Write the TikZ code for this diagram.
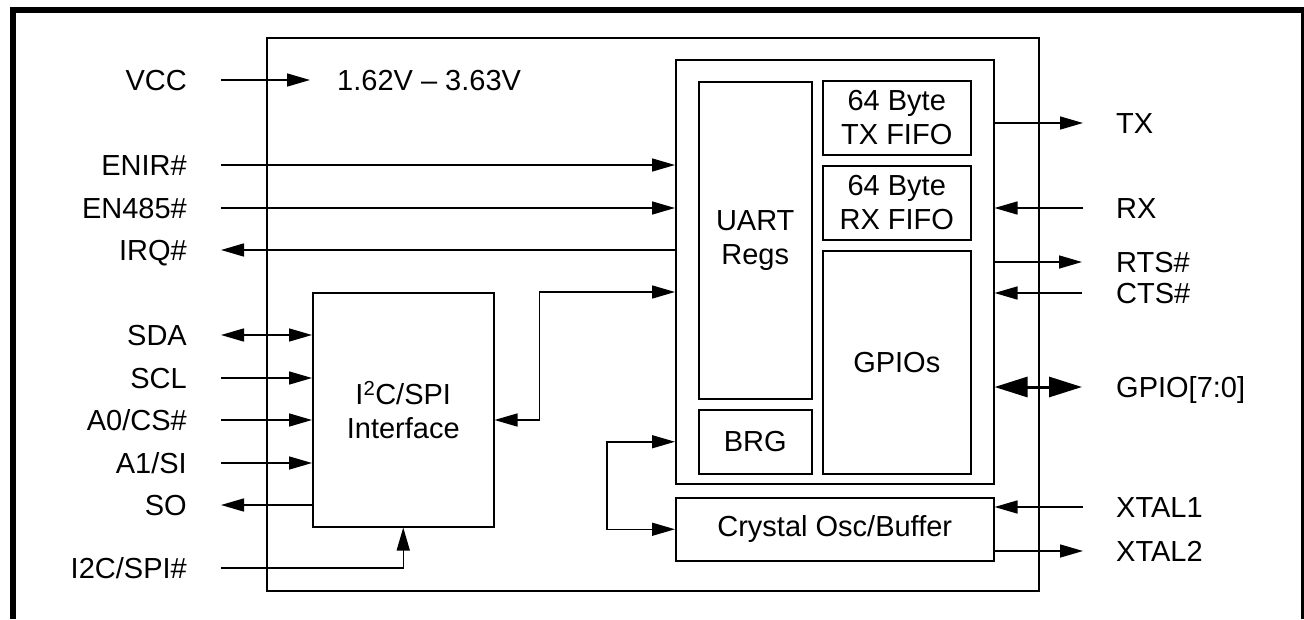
\documentclass[tikz,border=0pt]{standalone}
\usepackage{fontspec}
\setmainfont{Liberation Sans}
\usetikzlibrary{arrows.meta, positioning, calc}

\begin{document}
\begin{tikzpicture}[
    x=1pt, y=-1pt,
    font=\fontsize{29}{34}\selectfont,
    block/.style={draw=black, line width=1.5pt, anchor=north west, align=center, inner sep=0pt},
    pin/.style={inner sep=0pt, text height=21pt, text depth=0pt},
    arrow/.style={-{Triangle[length=23pt, width=13pt]}, line width=1.5pt},
    biarrow/.style={{Triangle[length=23pt, width=13pt]}-{Triangle[length=23pt, width=13pt]}, line width=1.5pt},
    busarrow/.style={{Triangle[length=33pt, width=20pt]}-{Triangle[length=33pt, width=20pt]}, line width=3pt}
  ]
    \useasboundingbox (0,0) rectangle (1304,619);

    % Frame
    \draw[line width=6pt] (13,619) -- (13,10) -- (1304,10);
    \draw[line width=3pt] (1302,10) -- (1302,619);

    % Blocks
    \node[block, minimum width=772pt, minimum height=553pt] (chip) at (266,37) {};
    \node[block, minimum width=318pt, minimum height=424pt] (uart) at (675,59) {};
    \node[block, minimum width=113pt, minimum height=317pt] (regs) at (698,81) {UART\\Regs};
    \node[block, minimum width=148pt, minimum height=74pt] (txf) at (822,80) {64 Byte\\TX FIFO};
    \node[block, minimum width=148pt, minimum height=74pt] (rxf) at (822,165) {64 Byte\\RX FIFO};
    \node[block, minimum width=148pt, minimum height=223pt] (gpio) at (822,250) {GPIOs};
    \node[block, minimum width=113pt, minimum height=64pt] (brg) at (698,409) {BRG};
    \node[block, minimum width=318pt, minimum height=63pt] (xtal) at (675,497) {Crystal Osc/Buffer};
    \node[block, minimum width=181pt, minimum height=234pt] (i2c) at (312,292) {I\textsuperscript{2}C/SPI\\Interface};

    % Left pins
    \node[pin, anchor=east] (vcc) at (187,80) {VCC};
    \node[pin, anchor=east] (enir) at (187,165) {ENIR\#};
    \node[pin, anchor=east] (en485) at (187,208) {EN485\#};
    \node[pin, anchor=east] (irq) at (187,250) {IRQ\#};
    \node[pin, anchor=east] (sda) at (187,335) {SDA};
    \node[pin, anchor=east] (scl) at (187,378) {SCL};
    \node[pin, anchor=east] (a0) at (187,420) {A0/CS\#};
    \node[pin, anchor=east] (a1) at (187,463) {A1/SI};
    \node[pin, anchor=east] (so) at (187,505) {SO};
    \node[pin, anchor=east] (sel) at (187,568) {I2C/SPI\#};
    \node[pin, anchor=west] (volt) at (337,80) {1.62V -- 3.63V};

    \coordinate (vcc_p) at (221,80);
    \coordinate (enir_p) at (221,165);
    \coordinate (en485_p) at (221,208);
    \coordinate (irq_p) at (221,250);
    \coordinate (sda_p) at (221,335);
    \coordinate (scl_p) at (221,378);
    \coordinate (a0_p) at (221,420);
    \coordinate (a1_p) at (221,463);
    \coordinate (so_p) at (221,505);
    \coordinate (sel_p) at (221,568);

    % Right pins
    \node[pin, anchor=west] (tx) at (1116,123) {TX};
    \node[pin, anchor=west] (rx) at (1116,208) {RX};
    \node[pin, anchor=west] (rts) at (1116,262) {RTS\#};
    \node[pin, anchor=west] (cts) at (1116,293) {CTS\#};
    \node[pin, anchor=west] (gp) at (1116,387) {GPIO[7:0]};
    \node[pin, anchor=west] (x1) at (1116,507) {XTAL1};
    \node[pin, anchor=west] (x2) at (1116,551) {XTAL2};

    \coordinate (tx_p) at (1083,123);
    \coordinate (rx_p) at (1083,208);
    \coordinate (rts_p) at (1082,262);
    \coordinate (cts_p) at (1082,293);
    \coordinate (gp_p) at (1082,387);
    \coordinate (x1_p) at (1083,507);
    \coordinate (x2_p) at (1083,551);

    % Left connections
    \draw[arrow, shorten >=27pt] (vcc_p) -- (volt.west);
    \draw[arrow] (enir_p) -- (enir_p -| uart.west);
    \draw[arrow] (en485_p) -- (en485_p -| uart.west);
    \draw[arrow] (irq_p -| uart.west) -- (irq_p);
    \draw[biarrow] (sda_p) -- (sda_p -| i2c.west);
    \draw[arrow] (scl_p) -- (scl_p -| i2c.west);
    \draw[arrow] (a0_p) -- (a0_p -| i2c.west);
    \draw[arrow] (a1_p) -- (a1_p -| i2c.west);
    \draw[arrow] (so_p -| i2c.west) -- (so_p);
    \draw[arrow] (sel_p) -| (i2c.south);

    % Internal connections
    \draw[biarrow] (i2c.east |- a0_p) -- ++(45,0) |- (uart.west |- i2c.north);
    \draw[biarrow] (uart.west |- brg.center) -- ++(-68,0) |- (xtal.west);

    % Right connections
    \draw[arrow] (uart.east |- tx_p) -- (tx_p);
    \draw[arrow] (rx_p) -- (rx_p -| uart.east);
    \draw[arrow] (uart.east |- rts_p) -- (rts_p);
    \draw[arrow] (cts_p) -- (cts_p -| uart.east);
    \draw[busarrow] (uart.east |- gp_p) -- (gp_p);
    \draw[arrow] (x1_p) -- (x1_p -| xtal.east);
    \draw[arrow] (xtal.east |- x2_p) -- (x2_p);
  \end{tikzpicture}
\end{document}
